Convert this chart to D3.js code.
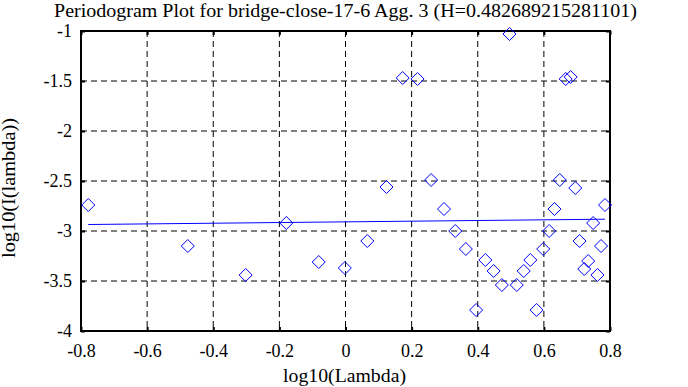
<!DOCTYPE html>
<html>
<head>
<meta charset="utf-8">
<script src="https://cdn.jsdelivr.net/npm/d3@7"></script>
<style>
  body { margin: 0; background: #fff; }
</style>
</head>
<body>
<div id="chart"></div>
<script>
// periodogram points
const logLambda = [-0.778, -0.477, -0.302, -0.179, -0.081, -0.002, 0.066, 0.124, 0.173, 0.218,
  0.259, 0.298, 0.332, 0.364, 0.395, 0.423, 0.448, 0.473, 0.496, 0.518,
  0.539, 0.559, 0.578, 0.598, 0.616, 0.632, 0.648, 0.666, 0.681, 0.695,
  0.708, 0.722, 0.734, 0.749, 0.762, 0.773, 0.785];
const logI = [-2.74, -3.15, -3.44, -2.92, -3.31, -3.37, -3.10, -2.56, -1.47, -1.48,
  -2.49, -2.78, -3.00, -3.18, -3.79, -3.29, -3.40, -3.54, -1.03, -3.54,
  -3.40, -3.29, -3.79, -3.18, -3.00, -2.78, -2.49, -1.48, -1.46, -2.57,
  -3.10, -3.38, -3.30, -2.92, -3.44, -3.15, -2.74];

// fitted line end points
const fitX = [-0.778, 0.785];
const fitY = [-2.935, -2.882];

const xTicks = [-0.8, -0.6, -0.4, -0.2, 0, 0.2, 0.4, 0.6, 0.8];
const yTicks = [-1, -1.5, -2, -2.5, -3, -3.5, -4];

const title = "Periodogram Plot for bridge-close-17-6 Agg. 3 (H=0.482689215281101)";

const FONT = "'Liberation Serif', 'Times New Roman', Times, serif";

const W = 688, H = 387;
const margin = {top: 31, right: 78, bottom: 56, left: 81};
const width = W - margin.left - margin.right,
  height = H - margin.top - margin.bottom;

const svg = d3.select("#chart").append("svg")
  .attr("width", W)
  .attr("height", H);

const g = svg.append("g")
  .attr("transform", "translate(" + margin.left + "," + margin.top + ")");

const x = d3.scaleLinear().domain([-0.8, 0.8]).range([0, width]);
const y = d3.scaleLinear().domain([-4, -1]).range([height, 0]);

// grid
g.append("g").selectAll("line")
  .data(xTicks.slice(1, -1))
  .enter().append("line")
  .attr("x1", d => x(d)).attr("x2", d => x(d))
  .attr("y1", 0).attr("y2", height)
  .attr("stroke", "#000")
  .attr("stroke-dasharray", "6,4");

g.append("g").selectAll("line")
  .data(yTicks.slice(1, -1))
  .enter().append("line")
  .attr("y1", d => y(d)).attr("y2", d => y(d))
  .attr("x1", 0).attr("x2", width)
  .attr("stroke", "#000")
  .attr("stroke-dasharray", "6,4");

// axes, ticks pointing inward
const fmt = d => d3.format("")(d).replace("−", "-");

g.append("g")
  .attr("transform", "translate(0," + height + ")")
  .call(d3.axisBottom(x).tickValues(xTicks).tickSizeInner(-4).tickSizeOuter(0).tickPadding(13).tickFormat(fmt))
  .call(a => a.select(".domain").remove())
  .call(a => a.selectAll("text").style("font-size", "18px").style("font-family", FONT).attr("fill", "#000"))
  .call(a => a.selectAll("line").attr("stroke-width", 2));

g.append("g")
  .call(d3.axisTop(x).tickValues(xTicks).tickSizeInner(-4).tickSizeOuter(0).tickFormat(""))
  .call(a => a.select(".domain").remove())
  .call(a => a.selectAll("line").attr("stroke-width", 2));

g.append("g")
  .call(d3.axisLeft(y).tickValues(yTicks).tickSizeInner(-4).tickSizeOuter(0).tickPadding(9).tickFormat(fmt))
  .call(a => a.select(".domain").remove())
  .call(a => a.selectAll("text").style("font-size", "18px").style("font-family", FONT).attr("fill", "#000"))
  .call(a => a.selectAll("line").attr("stroke-width", 2));

g.append("g")
  .attr("transform", "translate(" + width + ",0)")
  .call(d3.axisRight(y).tickValues(yTicks).tickSizeInner(-4).tickSizeOuter(0).tickFormat(""))
  .call(a => a.select(".domain").remove())
  .call(a => a.selectAll("line").attr("stroke-width", 2));

// frame
g.append("rect")
  .attr("width", width).attr("height", height)
  .attr("fill", "none")
  .attr("stroke", "#000")
  .attr("stroke-width", 2);

// fit line
g.append("line")
  .attr("x1", x(fitX[0])).attr("y1", y(fitY[0]))
  .attr("x2", x(fitX[1])).attr("y2", y(fitY[1]))
  .attr("stroke", "#0000ff")
  .attr("stroke-width", 1);

// diamonds
const r = 6.5;
g.append("g").selectAll("path")
  .data(logLambda.map((d, i) => [d, logI[i]]))
  .enter().append("path")
  .attr("d", d => {
    const cx = x(d[0]), cy = y(d[1]);
    return "M" + cx + "," + (cy - r) + "L" + (cx + r) + "," + cy + "L" + cx + "," + (cy + r) + "L" + (cx - r) + "," + cy + "Z";
  })
  .attr("fill", "none")
  .attr("stroke", "#0000ff")
  .attr("stroke-width", 1);

// labels (the original font is a bit wider than Times, so stretch)
svg.append("text")
  .attr("x", 54).attr("y", 17)
  .attr("textLength", 583)
  .attr("lengthAdjust", "spacingAndGlyphs")
  .style("font-size", "18px").style("font-family", FONT)
  .text(title);

svg.append("text")
  .attr("x", 283).attr("y", 382)
  .attr("textLength", 123)
  .attr("lengthAdjust", "spacingAndGlyphs")
  .style("font-size", "18px").style("font-family", FONT)
  .text("log10(Lambda)");

svg.append("text")
  .attr("transform", "translate(15,258) rotate(-90)")
  .attr("textLength", 140)
  .attr("lengthAdjust", "spacingAndGlyphs")
  .style("font-size", "18px").style("font-family", FONT)
  .text("log10(I(lambda))");
</script>
</body>
</html>
